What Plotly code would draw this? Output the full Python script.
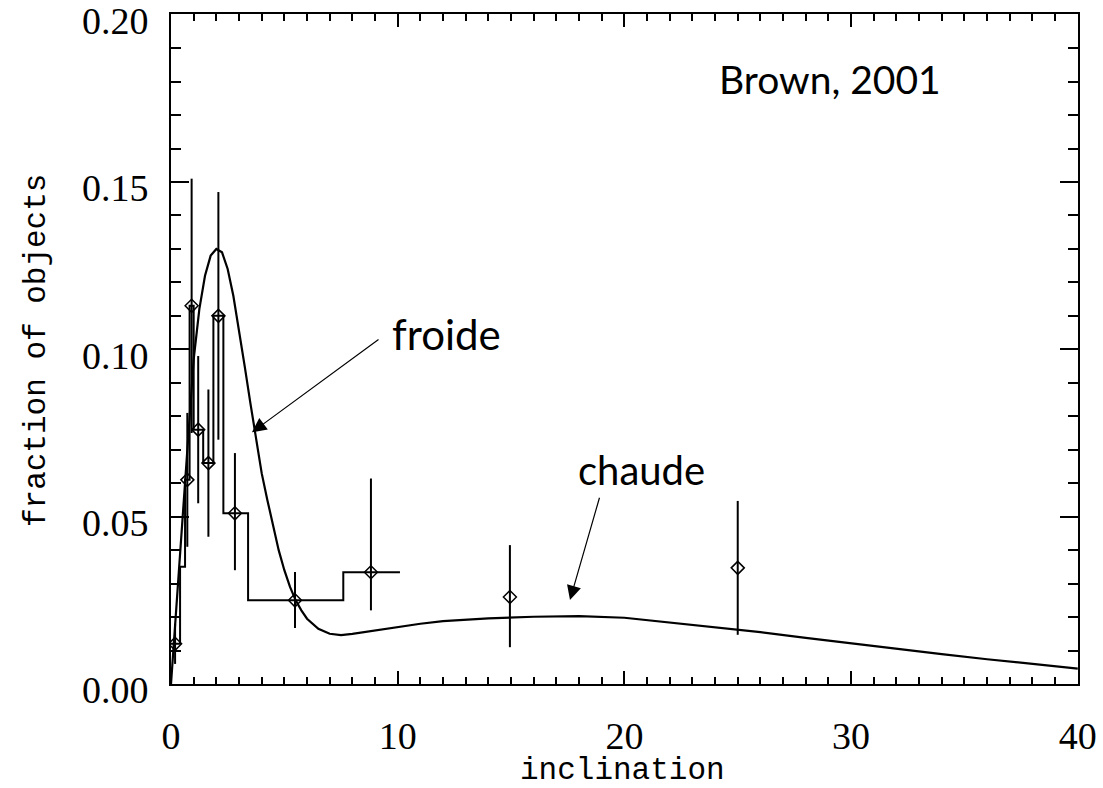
import plotly.graph_objects as go

# Model curve: fraction of objects vs inclination (deg)
curve_incl = [0.0, 0.25, 0.5, 0.75, 1.0, 1.25, 1.5, 1.75, 2.0, 2.25, 2.5, 2.75,
              3.0, 3.25, 3.5, 3.75, 4.0, 4.25, 4.5, 4.75, 5.0, 5.25, 5.5, 5.75,
              6.0, 6.5, 7.0, 7.5, 8.0, 9.0, 10.0, 11.0, 12.0, 14.0, 16.0, 18.0,
              20.0, 22.0, 24.0, 26.0, 28.0, 30.0, 32.0, 34.0, 36.0, 38.0, 40.0]
curve_frac = [0.0, 0.025, 0.050, 0.075, 0.097, 0.112, 0.122, 0.128, 0.130, 0.129, 0.124, 0.116,
              0.106, 0.095, 0.084, 0.073, 0.063, 0.055, 0.047, 0.040, 0.034, 0.029, 0.025, 0.022,
              0.0195, 0.0165, 0.0150, 0.0146, 0.0150, 0.0160, 0.0172, 0.0180, 0.0188, 0.0196, 0.0201, 0.0203,
              0.0198, 0.0184, 0.0170, 0.0155, 0.0138, 0.0121, 0.0105, 0.0089, 0.0074, 0.0060, 0.0046]

# Observed histogram (bin edges and fraction per bin)
hist_edges = [0.0, 0.4, 0.62, 0.82, 1.0, 1.42, 1.87, 2.31, 3.4, 7.6, 10.1]
hist_frac = [0.012, 0.035, 0.061, 0.113, 0.076, 0.066, 0.110, 0.051, 0.025, 0.0334]

# Data points with error bars
pt_incl = [0.18, 0.72, 0.91, 1.2, 1.65, 2.09, 2.82, 5.47, 8.82, 14.95, 25.0]
pt_frac = [0.012, 0.061, 0.113, 0.076, 0.066, 0.110, 0.051, 0.025, 0.0334, 0.026, 0.0347]
pt_err_up = [0.006, 0.020, 0.038, 0.022, 0.022, 0.037, 0.018, 0.0085, 0.028, 0.0155, 0.020]
pt_err_dn = [0.006, 0.020, 0.038, 0.022, 0.022, 0.037, 0.017, 0.0083, 0.0114, 0.015, 0.020]

x_ticks = [0, 10, 20, 30, 40]
y_ticks = [0.0, 0.05, 0.10, 0.15, 0.20]
y_tick_text = ["0.00", "0.05", "0.10", "0.15", "0.20"]

# step outline of the histogram
step_x = list(hist_edges)
step_y = list(hist_frac) + [hist_frac[-1]]

fig = go.Figure()
fig.add_trace(go.Scatter(x=curve_incl, y=curve_frac, mode="lines",
                         line=dict(color="black", width=2.2), hoverinfo="skip"))
fig.add_trace(go.Scatter(x=step_x, y=step_y, mode="lines", line_shape="hv",
                         line=dict(color="black", width=2), hoverinfo="skip"))
fig.add_trace(go.Scatter(
    x=pt_incl, y=pt_frac, mode="markers",
    marker=dict(symbol="diamond-open", size=10, color="black", line=dict(width=1.5)),
    error_y=dict(type="data", symmetric=False, array=pt_err_up, arrayminus=pt_err_dn,
                 color="black", thickness=2, width=0),
))

font_ticks = dict(family="Liberation Serif", size=38, color="black")
font_title = dict(family="Liberation Mono", size=31, color="black")

fig.update_layout(
    width=1103, height=788,
    margin=dict(l=171, r=25, t=14, b=104, autoexpand=False),
    paper_bgcolor="white", plot_bgcolor="white",
    showlegend=False,
    xaxis=dict(
        range=[0, 40.01], tickvals=x_ticks, ticks="inside", ticklen=13, tickwidth=2,
        tickcolor="black", showline=True, linecolor="black", linewidth=2,
        mirror="allticks", showgrid=False, zeroline=False, automargin=False,
        tickfont=font_ticks, ticklabelstandoff=17, ticklabeloverflow="allow",
        minor=dict(dtick=1, ticks="inside", ticklen=7, tickwidth=2, tickcolor="black", showgrid=False),
    ),
    yaxis=dict(
        range=[0, 0.2002], tickvals=y_ticks, ticktext=y_tick_text, ticks="inside",
        ticklen=18, tickwidth=2, tickcolor="black", showline=True, linecolor="black",
        linewidth=2, mirror="allticks", showgrid=False, zeroline=False, automargin=False,
        tickfont=font_ticks, ticklabelstandoff=13, ticklabelshift=6, ticklabeloverflow="allow",
        minor=dict(dtick=0.01, ticks="inside", ticklen=10, tickwidth=2, tickcolor="black", showgrid=False),
    ),
)

# axis titles
fig.add_annotation(x=0.4983, y=-0.129, xref="paper", yref="paper", text="inclination",
                   showarrow=False, font=font_title, xanchor="center", yanchor="middle")
fig.add_annotation(x=-0.1488, y=0.497, xref="paper", yref="paper", text="fraction of objects",
                   showarrow=False, font=font_title, textangle=-90,
                   xanchor="center", yanchor="middle")

# text notes
fig.add_annotation(x=29.06, y=0.1808, text="Brown, 2001", showarrow=False,
                   font=dict(family="Lato", size=39, color="black"),
                   xanchor="center", yanchor="middle")
fig.add_annotation(x=12.17, y=0.1045, text="froide", showarrow=False,
                   font=dict(family="Lato", size=42, color="black"),
                   xanchor="center", yanchor="middle")
fig.add_annotation(x=20.77, y=0.0640, text="chaude", showarrow=False,
                   font=dict(family="Lato", size=40, color="black"),
                   xanchor="center", yanchor="middle")

# arrows pointing at the two components of the curve
fig.add_annotation(x=3.57, y=0.0752, ax=9.22, ay=0.1033, xref="x", yref="y", axref="x", ayref="y",
                   text="", showarrow=True, arrowhead=2, arrowsize=2.4, arrowwidth=1.2, arrowcolor="black")
fig.add_annotation(x=17.6, y=0.0251, ax=18.92, ay=0.0561, xref="x", yref="y", axref="x", ayref="y",
                   text="", showarrow=True, arrowhead=2, arrowsize=2.4, arrowwidth=1.2, arrowcolor="black")

fig.write_html("out.html")
